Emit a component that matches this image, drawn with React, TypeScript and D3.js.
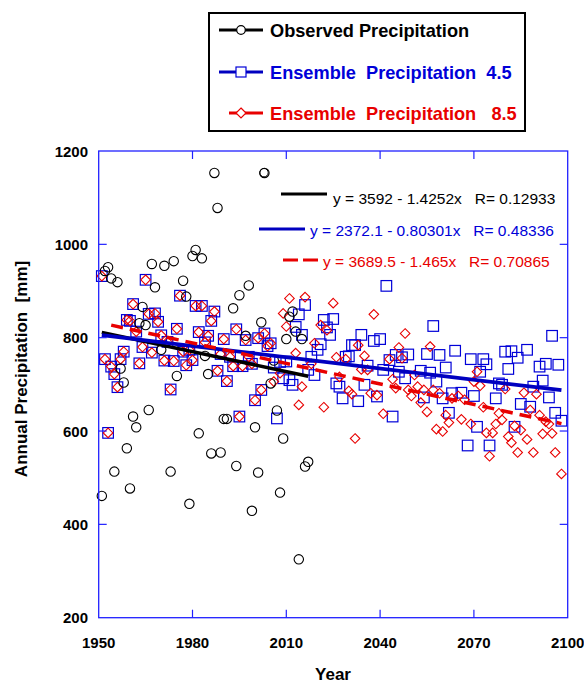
import React from "react";
import * as d3 from "d3";

// ---------- data ----------
const obsYears = [1951,1952,1953,1954,1955,1956,1957,1958,1959,1960,1961,1962,1963,1964,1965,1966,1967,1968,1970,1971,1973,1974,1975,1977,1978,1979,1980,1981,1982,1983,1984,1985,1986,1987,1988,1989,1990,1991,1993,1994,1995,1997,1998,1999,2000,2001,2002,2003,2005,2006,2007,2008,2009,2010,2011,2012,2013,2014,2015,2016,2017];
const obsValues = [461,943,951,927,513,919,734,704,563,477,631,608,831,866,827,645,958,908,774,954,513,964,718,922,888,444,975,988,595,970,761,722,552,1153,1078,554,626,626,863,525,891,804,912,429,608,511,833,1153,702,751,644,468,584,797,845,856,813,325,797,524,534];

// historical period: both ensembles share the same values
const histYears = [1951,1952,1953,1954,1955,1956,1957,1958,1959,1960,1961,1962,1963,1964,1965,1966,1967,1968,1969,1970,1971,1972,1973,1974,1975,1976,1977,1978,1979,1980,1981,1982,1983,1984,1985,1986,1987,1988,1989,1990,1991,1992,1993,1994,1995,1996,1997,1998,1999,2000,2001,2002,2003,2004,2005];
const histValues = [932,754,596,738,722,694,754,770,838,836,872,813,745,780,924,851,768,852,834,805,751,791,689,750,819,890,770,741,774,752,868,812,868,790,804,836,856,729,765,797,707,759,739,818,631,739,795,759,744,666,799,688,809,782,788];

const rcp45Years = [2006,2007,2008,2009,2010,2011,2012,2013,2014,2015,2016,2017,2018,2019,2020,2021,2022,2023,2024,2025,2026,2027,2028,2029,2030,2031,2032,2033,2034,2035,2036,2038,2039,2040,2041,2042,2043,2044,2045,2046,2047,2048,2049,2053,2054,2055,2056,2057,2058,2059,2060,2061,2062,2063,2064,2066,2068,2069,2070,2071,2072,2073,2074,2075,2077,2078,2079,2080,2081,2082,2083,2084,2085,2087,2088,2089,2091,2092,2093,2094,2095,2096,2097,2098];
const rcp45Values = [736,627,748,713,749,709,699,823,850,806,870,731,759,720,774,786,838,822,806,840,702,695,670,759,760,784,784,664,806,699,740,793,674,797,731,911,752,631,763,727,758,713,764,729,672,765,725,825,706,763,670,736,639,681,772,682,569,754,675,609,727,754,743,569,670,702,699,770,733,771,609,757,658,774,652,695,738,708,744,672,804,639,742,622];

const rcp85Years = [2006,2008,2009,2010,2011,2013,2014,2015,2016,2018,2019,2021,2022,2023,2025,2026,2027,2029,2030,2031,2032,2033,2034,2035,2036,2037,2038,2039,2041,2043,2044,2045,2046,2047,2048,2049,2050,2051,2052,2053,2054,2055,2056,2057,2058,2059,2060,2061,2062,2063,2065,2066,2067,2069,2070,2071,2072,2073,2074,2075,2076,2077,2078,2079,2080,2081,2082,2083,2084,2085,2086,2087,2088,2089,2090,2091,2092,2093,2094,2095,2096,2098];
const rcp85Values = [706,724,852,824,884,767,656,695,887,744,788,827,651,816,874,758,716,754,686,679,584,784,732,761,731,681,850,677,637,754,711,692,779,756,809,688,675,720,695,661,688,641,781,688,604,681,599,634,618,670,675,625,667,615,706,727,697,651,596,546,596,615,638,624,690,588,575,611,554,602,682,582,645,554,679,634,594,620,615,595,554,508];

const xTicks = [1950, 1980, 2010, 2040, 2070, 2100];
const yTicks = [200, 400, 600, 800, 1000, 1200];

const seriesNames = ["Observed Precipitation", "Ensemble  Precipitation  4.5", " Ensemble  Precipitation   8.5"];
const fitIntercepts = [3592, 2372.1, 3689.5];
const fitSlopes = [-1.4252, -0.80301, -1.465];
const fitLabels = [
  "y = 3592 - 1.4252x   R= 0.12933",
  "y = 2372.1 - 0.80301x   R= 0.48336",
  "y = 3689.5 - 1.465x   R= 0.70865",
];

const BLACK = "#000000";
const BLUE = "#0000d8";
const BLUE_LINE = "#0000c0";
const RED = "#e80000";
const AXIS = "#2020ff";
const FONT = "Arial, 'Liberation Sans', Helvetica, sans-serif";

export default function App() {
  const x = d3.scaleLinear().domain([1950, 2100]).range([98.7, 567.7]);
  const y = d3.scaleLinear().domain([200, 1200]).range([617.7, 151]);

  const ens45 = histYears.map((yr, i) => [yr, histValues[i]]).concat(rcp45Years.map((yr, i) => [yr, rcp45Values[i]]));
  const ens85 = histYears.map((yr, i) => [yr, histValues[i]]).concat(rcp85Years.map((yr, i) => [yr, rcp85Values[i]]));
  const obs = obsYears.map((yr, i) => [yr, obsValues[i]]);

  const line = d3.line<number[]>().x((d) => x(d[0])).y((d) => y(d[1]));
  const fitLine = (k: number, x0: number, x1: number) =>
    line([[x0, fitIntercepts[k] + fitSlopes[k] * x0], [x1, fitIntercepts[k] + fitSlopes[k] * x1]]) || "";

  const obsExtent = d3.extent(obsYears) as number[];
  const ensEnd = 2098;

  const sq = 5.3;
  const dm = 4.8;
  const diamond = (cx: number, cy: number) =>
    `M${cx},${cy - dm}L${cx + dm},${cy}L${cx},${cy + dm}L${cx - dm},${cy}Z`;

  const [X0, X1] = x.range();
  const [Y0, Y1] = y.range();

  return (
    <svg width={584} height={683} style={{ position: "absolute", left: 0, top: 0, fontFamily: FONT }}>
      <rect x={0} y={0} width={584} height={683} fill="#ffffff" />

      {/* squares (RCP 4.5 ensemble) */}
      {ens45.map((d, i) => (
        <rect key={"s" + i} x={x(d[0]) - sq} y={y(d[1]) - sq} width={sq * 2} height={sq * 2}
          fill="none" stroke={BLUE} strokeWidth={1.2} />
      ))}
      {/* diamonds (RCP 8.5 ensemble) */}
      {ens85.map((d, i) => (
        <path key={"d" + i} d={diamond(x(d[0]), y(d[1]))} fill="none" stroke={RED} strokeWidth={1.1} />
      ))}
      {/* observed circles */}
      {obs.map((d, i) => (
        <circle key={"c" + i} cx={x(d[0])} cy={y(d[1])} r={4.7} fill="none" stroke={BLACK} strokeWidth={1.1} />
      ))}

      {/* regression lines */}
      <path d={fitLine(0, obsExtent[0], obsExtent[1])} stroke={BLACK} strokeWidth={3.5} fill="none" />
      <path d={fitLine(1, 1951, ensEnd)} stroke={BLUE_LINE} strokeWidth={3.8} fill="none" />
      <path d={fitLine(2, 1954, ensEnd)} stroke={RED} strokeWidth={3.5} fill="none" strokeDasharray="12,7" />

      {/* frame */}
      <rect x={X0} y={Y1} width={X1 - X0} height={Y0 - Y1} fill="none" stroke={AXIS} strokeWidth={1.3} />
      {xTicks.slice(1, -1).map((t) => (
        <g key={"xt" + t}>
          <line x1={x(t)} x2={x(t)} y1={Y0} y2={Y0 - 8} stroke={AXIS} strokeWidth={1.2} />
          <line x1={x(t)} x2={x(t)} y1={Y1} y2={Y1 + 8} stroke={AXIS} strokeWidth={1.2} />
        </g>
      ))}
      {yTicks.slice(1, -1).map((t) => (
        <g key={"yt" + t}>
          <line x1={X0} x2={X0 + 8} y1={y(t)} y2={y(t)} stroke={AXIS} strokeWidth={1.2} />
          <line x1={X1} x2={X1 - 8} y1={y(t)} y2={y(t)} stroke={AXIS} strokeWidth={1.2} />
        </g>
      ))}

      {/* tick labels */}
      {xTicks.map((t) => (
        <text key={"xl" + t} x={x(t)} y={648} textAnchor="middle" fontSize={15} fontWeight="bold" fill="#000">{t}</text>
      ))}
      {yTicks.map((t) => (
        <text key={"yl" + t} x={88} y={y(t) + 5.5} textAnchor="end" fontSize={15} fontWeight="bold" fill="#000">{t}</text>
      ))}
      <text x={333} y={680} textAnchor="middle" fontSize={17} fontWeight="bold" fill="#000">Year</text>
      <text transform="translate(27,369) rotate(-90)" textAnchor="middle" fontSize={17} fontWeight="bold" fill="#000"
        style={{ whiteSpace: "pre" }}>Annual Precipitation  [mm]</text>

      {/* regression equations */}
      <circle cx={264} cy={172.7} r={4.2} fill="none" stroke={BLACK} strokeWidth={1} />
      <line x1={281} x2={327} y1={194} y2={194} stroke={BLACK} strokeWidth={3} />
      <text x={333} y={204} fontSize={15.5} fill={BLACK} style={{ whiteSpace: "pre" }}>{fitLabels[0]}</text>
      <line x1={259} x2={305} y1={229} y2={229} stroke={BLUE_LINE} strokeWidth={3} />
      <text x={310} y={236} fontSize={15.5} fill={BLUE} style={{ whiteSpace: "pre" }}>{fitLabels[1]}</text>
      <line x1={283} x2={318} y1={260} y2={260} stroke={RED} strokeWidth={3} strokeDasharray="15,5" />
      <text x={323} y={266.5} fontSize={15.5} fill={RED} style={{ whiteSpace: "pre" }}>{fitLabels[2]}</text>

      {/* legend */}
      <rect x={209} y={13} width={316} height={118} fill="#fff" stroke="#000" strokeWidth={2} />
      <line x1={219} x2={263} y1={30} y2={30} stroke={BLACK} strokeWidth={3} />
      <circle cx={241} cy={30} r={4.3} fill="#fff" stroke={BLACK} strokeWidth={1.2} />
      <text x={270} y={37} fontSize={18.2} fontWeight="bold" fill={BLACK} style={{ whiteSpace: "pre" }}>{seriesNames[0]}</text>
      <line x1={219} x2={263} y1={72} y2={72} stroke={BLUE_LINE} strokeWidth={3} />
      <rect x={236} y={67} width={10} height={10} fill="#fff" stroke={BLUE} strokeWidth={1.2} />
      <text x={270} y={79} fontSize={18.2} fontWeight="bold" fill={BLUE} style={{ whiteSpace: "pre" }}>{seriesNames[1]}</text>
      <line x1={229} x2={263} y1={113} y2={113} stroke={RED} strokeWidth={3} />
      <path d={`M241,108L246,113L241,118L236,113Z`} fill="#fff" stroke={RED} strokeWidth={1.2} />
      <text x={265} y={120} fontSize={18.2} fontWeight="bold" fill={RED} style={{ whiteSpace: "pre" }}>{seriesNames[2]}</text>
    </svg>
  );
}
